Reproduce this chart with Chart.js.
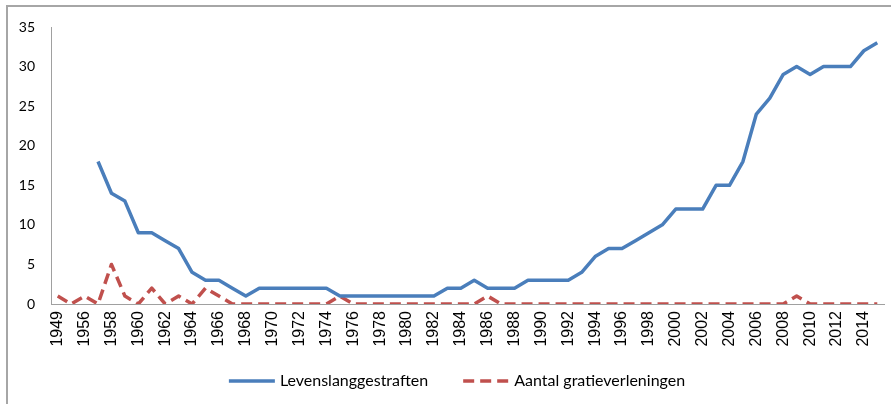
<!DOCTYPE html>
<html>
<head>
<meta charset="utf-8">
<script src="https://cdn.jsdelivr.net/npm/chart.js@4.4.0/dist/chart.umd.min.js"></script>
<style>
    body { margin: 0; background: #fff; }
    #wrap { position: relative; width: 891px; height: 404px; }
    #frame {
        position: absolute; left: 6px; top: 5px; width: 900px; height: 410px;
        border-left: 2px solid #a6a6a6; border-top: 2px solid #a6a6a6;
    }
    canvas { position: absolute; left: 0; top: 0; }
</style>
</head>
<body>
<div id="wrap">
    <div id="frame"></div>
    <canvas id="chart" width="891" height="404"></canvas>
</div>
<script>
const years = ['1949', '1955', '1956', '1957', '1958', '1959', '1960', '1961', '1962', '1963',
    '1964', '1965', '1966', '1967', '1968', '1969', '1970', '1971', '1972', '1973',
    '1974', '1975', '1976', '1977', '1978', '1979', '1980', '1981', '1982', '1983',
    '1984', '1985', '1986', '1987', '1988', '1989', '1990', '1991', '1992', '1993',
    '1994', '1995', '1996', '1997', '1998', '1999', '2000', '2001', '2002', '2003',
    '2004', '2005', '2006', '2007', '2008', '2009', '2010', '2011', '2012', '2013',
    '2014', '2015'];

const levenslang = [null, null, null, 18, 14, 13, 9, 9, 8, 7,
    4, 3, 3, 2, 1, 2, 2, 2, 2, 2,
    2, 1, 1, 1, 1, 1, 1, 1, 1, 2,
    2, 3, 2, 2, 2, 3, 3, 3, 3, 4,
    6, 7, 7, 8, 9, 10, 12, 12, 12, 15,
    15, 18, 24, 26, 29, 30, 29, 30, 30, 30,
    32, 33];

const gratie = [1, 0, 1, 0, 5, 1, 0, 2, 0, 1,
    0, 2, 1, 0, 0, 0, 0, 0, 0, 0,
    0, 1, 0, 0, 0, 0, 0, 0, 0, 0,
    0, 0, 1, 0, 0, 0, 0, 0, 0, 0,
    0, 0, 0, 0, 0, 0, 0, 0, 0, 0,
    0, 0, 0, 0, 0, 1, 0, 0, 0, 0,
    0, 0];

const axisColor = '#a0a0a0';

// legend drawn by hand so the gap between the two items can match
const lineLegend = {
    id: 'lineLegend',
    afterDraw(chart) {
        const ctx = chart.ctx;
        const sets = chart.data.datasets;
        const sample = 46;
        const textGap = 5;
        const itemGap = 35;
        ctx.save();
        ctx.font = '16px Lato';
        ctx.textBaseline = 'middle';
        ctx.fillStyle = '#000';
        let total = 0;
        sets.forEach((ds, i) => {
            total += sample + textGap + ctx.measureText(ds.label).width;
            if (i > 0) total += itemGap;
        });
        let x = 457 - total / 2;
        const y = 381;
        sets.forEach(ds => {
            ctx.strokeStyle = ds.borderColor;
            ctx.lineWidth = ds.borderWidth;
            ctx.setLineDash(ds.borderDash || []);
            ctx.beginPath();
            ctx.moveTo(x, y);
            ctx.lineTo(x + sample, y);
            ctx.stroke();
            ctx.setLineDash([]);
            x += sample + textGap;
            ctx.fillText(ds.label, x, y);
            x += ctx.measureText(ds.label).width + itemGap;
        });
        ctx.restore();
    }
};

const chart = new Chart('chart', {
    type: 'line',
    data: {
        labels: years,
        datasets: [
            {
                label: 'Levenslanggestraften',
                data: levenslang,
                borderColor: '#4a7ebb',
                backgroundColor: '#4a7ebb',
                borderWidth: 3.5,
                borderJoinStyle: 'round',
                pointRadius: 0,
                tension: 0
            },
            {
                label: 'Aantal gratieverleningen',
                data: gratie,
                borderColor: '#c0504d',
                backgroundColor: '#c0504d',
                borderWidth: 3.5,
                borderDash: [11, 6],
                borderJoinStyle: 'round',
                pointRadius: 0,
                tension: 0
            }
        ]
    },
    plugins: [lineLegend],
    options: {
        responsive: false,
        animation: false,
        layout: {
            padding: { left: 0, right: 7, top: 27, bottom: 50 }
        },
        plugins: {
            tooltip: { enabled: false },
            legend: { display: false }
        },
        scales: {
            x: {
                offset: true,
                grid: { display: false, drawTicks: false },
                border: { color: axisColor, width: 1 },
                ticks: {
                    autoSkip: false,
                    minRotation: 90,
                    maxRotation: 90,
                    padding: 7,
                    color: '#000',
                    font: { family: 'Liberation Sans', size: 16 },
                    callback: function(value, index) {
                        return index % 2 === 0 ? years[index] : '';
                    }
                },
                afterFit: function(scale) {
                    scale.height = 50;
                    scale.paddingLeft = 0;
                    scale.paddingRight = 0;
                }
            },
            y: {
                min: 0,
                max: 35,
                grid: { display: false, drawTicks: false },
                border: { color: axisColor, width: 1 },
                ticks: {
                    stepSize: 5,
                    padding: 16,
                    color: '#000',
                    font: { family: 'Lato', size: 14 }
                },
                afterFit: function(scale) {
                    scale.width = 51;
                }
            }
        }
    }
});
</script>
</body>
</html>
